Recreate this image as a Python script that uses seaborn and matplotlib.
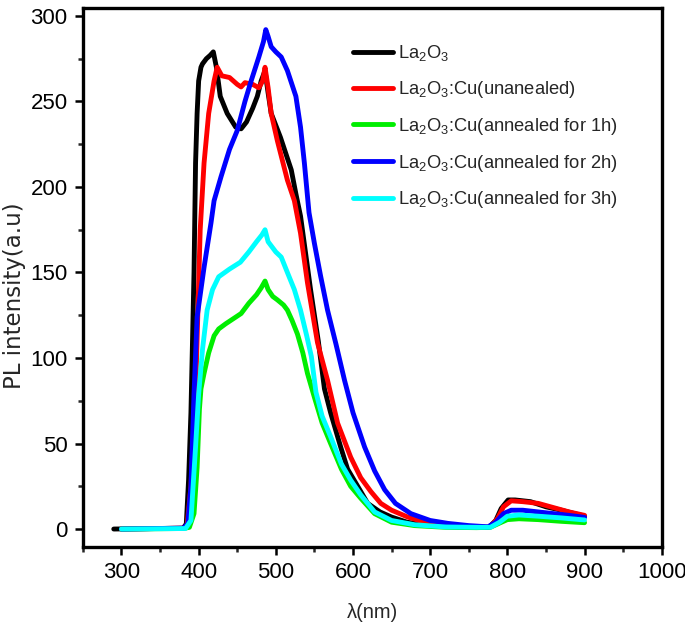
import matplotlib
matplotlib.use('Agg')
import matplotlib.pyplot as plt
from matplotlib.ticker import MultipleLocator, AutoMinorLocator
import seaborn as sns

# PL spectra
black_x = [290, 380, 384, 387, 390, 394, 396, 398, 400, 403, 405, 410, 415, 419, 423, 428, 437, 448, 455,
           462, 470, 476, 481, 486, 490, 494, 506, 520, 526, 532, 545, 555, 563, 571, 584, 593, 610, 619,
           635, 650, 670, 693, 720, 750, 776, 785, 792, 801, 810, 830, 850, 870, 900]
black_y = [0, 0.5, 3, 29, 68, 150, 214, 243, 262, 270, 272, 275, 277, 279, 270, 253, 243, 235, 234,
           238, 246, 253, 262, 268, 255, 243, 229, 210, 196, 183, 140, 110, 82, 68, 48, 35, 22, 15,
           10, 7, 4, 2.3, 1.5, 1, 1, 5, 12, 17, 17, 16, 13, 11, 7.5]

red_x = [300, 380, 385, 390, 396, 402, 407, 413, 420, 424, 430, 440, 450, 455, 460, 470, 478, 483, 486,
         490, 494, 502, 515, 524, 532, 541, 554, 567, 580, 597, 610, 623, 636, 650, 671, 700, 750, 777,
         787, 795, 805, 820, 840, 860, 880, 900]
red_y = [0, 0.5, 2, 25, 79, 175, 214, 243, 262, 270, 265, 264, 260, 258.5, 261, 260, 258, 262, 270,
         258, 243, 227, 204, 192, 173, 144, 109, 87, 62, 42, 30, 22, 15, 11, 7, 3, 1.5, 1,
         6, 13, 16.5, 16, 15, 12.5, 10, 8]

green_x = [300, 380, 388, 394, 398, 401, 403, 407, 413, 420, 426, 435, 445, 455, 465, 475, 481, 486,
           490, 496, 502, 510, 515, 521, 528, 535, 541, 550, 560, 571, 585, 597, 610, 628, 650, 680,
           720, 760, 778, 790, 800, 815, 840, 870, 900]
green_y = [0, 0.3, 1, 9, 36, 70, 82, 91, 103, 113, 117, 120, 123, 126, 132, 137, 141, 145,
           140, 136, 134, 131, 128, 122, 114, 103, 91, 77, 62, 50, 35, 25, 18, 9, 4, 2,
           1, 0.8, 1, 3.5, 5.5, 6, 5.5, 4.5, 3.7]

blue_x = [300, 380, 386, 390, 394, 398, 407, 416, 420, 429, 440, 450, 460, 468, 478, 484, 487, 490,
          494, 500, 507, 515, 526, 532, 537, 543, 550, 558, 567, 578, 589, 600, 615, 628, 641, 655,
          675, 700, 723, 750, 775, 785, 795, 805, 820, 840, 860, 880, 900]
blue_y = [0, 0.5, 3, 25, 79, 124, 153, 179, 192, 206, 222, 233, 250, 262, 276, 285, 292, 288,
          282, 279, 276, 268, 253, 235, 214, 185, 167, 148, 128, 108, 87, 68, 48, 34, 23, 15,
          9, 5, 3.3, 2, 1.3, 4, 9, 11, 11, 10, 9, 8, 6.8]

cyan_x = [300, 383, 390, 396, 400, 405, 411, 418, 426, 440, 454, 465, 475, 482, 486, 490, 500, 507,
          515, 524, 532, 540, 546, 552, 560, 571, 585, 597, 610, 628, 650, 680, 720, 760, 778, 790,
          800, 815, 840, 870, 900]
cyan_y = [0, 0.3, 5, 48, 79, 105, 128, 140, 147.5, 152, 156, 162, 168, 172, 175, 168, 162, 159,
          150, 140, 128, 113, 101, 80, 66, 54, 38, 28.6, 20, 10, 5, 2.5, 1.2, 1, 1, 4,
          7.5, 8.2, 7.5, 6.5, 5.3]

labels = [r'$\mathregular{La_2O_3}$',
          r'$\mathregular{La_2O_3}$:Cu(unanealed)',
          r'$\mathregular{La_2O_3}$:Cu(annealed for 1h)',
          r'$\mathregular{La_2O_3}$:Cu(annealed for 2h)',
          r'$\mathregular{La_2O_3}$:Cu(annealed for 3h)']
colors = ['#000000', '#ff0000', '#00ee00', '#0000ff', '#00ffff']

sns.set_style('ticks')
plt.rcParams['font.family'] = ['Liberation Sans', 'DejaVu Sans']
plt.rcParams['mathtext.fontset'] = 'custom'
plt.rcParams['mathtext.rm'] = 'Liberation Sans'

fig = plt.figure(figsize=(6.85, 6.35), dpi=100)
ax = fig.add_axes([0.121, 0.1386, 0.845, 0.8484])

series = [(black_x, black_y), (red_x, red_y), (green_x, green_y), (blue_x, blue_y), (cyan_x, cyan_y)]
for (xs, ys), lab, col in zip(series, labels, colors):
    sns.lineplot(x=xs, y=ys, ax=ax, color=col, lw=3.5, label=lab, sort=False, estimator=None)

ax.set_xlim(250, 1000)
ax.set_ylim(-10.5, 304.5)
ax.xaxis.set_major_locator(MultipleLocator(100))
ax.yaxis.set_major_locator(MultipleLocator(50))
ax.xaxis.set_minor_locator(AutoMinorLocator(2))
ax.yaxis.set_minor_locator(AutoMinorLocator(2))
ax.tick_params(which='major', direction='out', length=6, width=1.8, labelsize=16, pad=5, colors='black')
ax.tick_params(which='minor', direction='out', length=3.5, width=1.8)
for sp in ax.spines.values():
    sp.set_linewidth(2.4)
    sp.set_color('black')

ax.set_xlabel('λ(nm)', fontsize=14.5, labelpad=14)
ax.set_ylabel('PL intensity(a.u)', fontsize=16.5, family='DejaVu Sans')
ax.yaxis.set_label_coords(-0.098, 0.466)

leg = ax.legend(loc='upper left', bbox_to_anchor=(0.466, 0.935), frameon=False, fontsize=13.2,
                handlelength=2.2, handletextpad=0.3, labelspacing=0.86, borderpad=0, borderaxespad=0)
for h in leg.get_lines():
    h.set_linewidth(3.5)

plt.savefig('out.png', dpi=100)
plt.close()
